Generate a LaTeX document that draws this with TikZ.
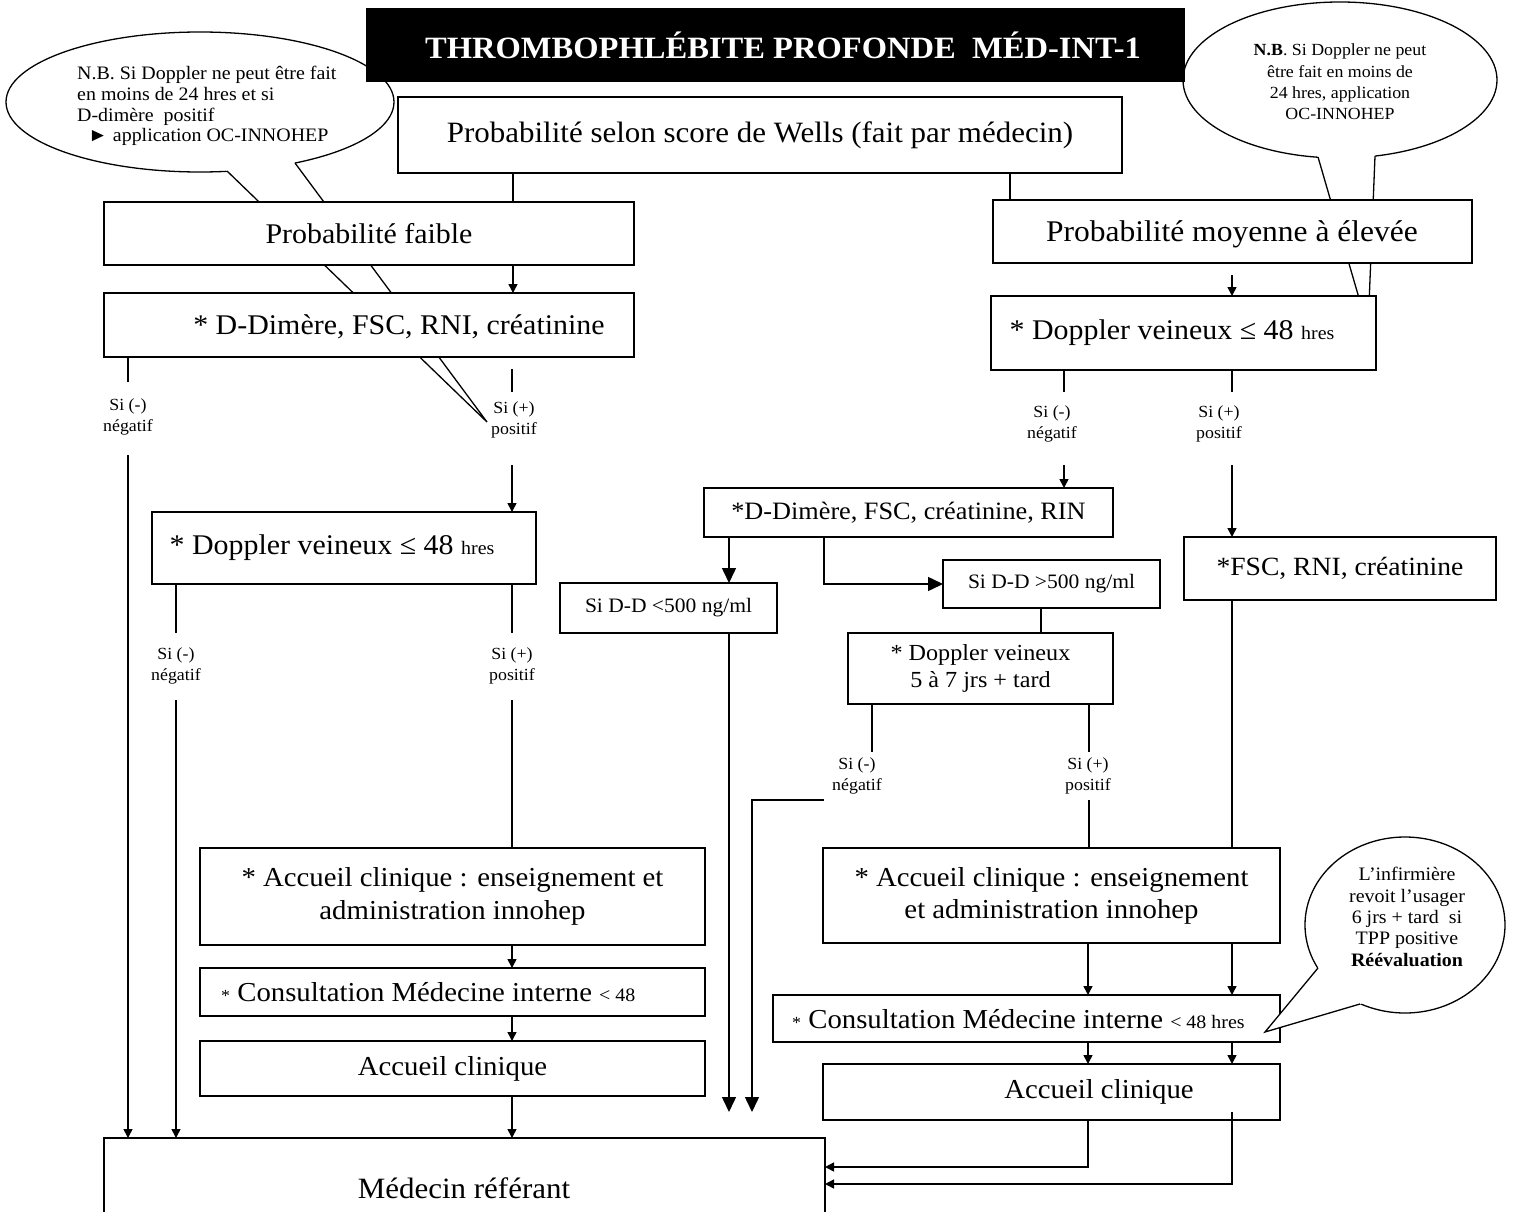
\documentclass[tikz,border=0pt]{standalone}
\usepackage{fontspec}
\setmainfont{Liberation Serif}[FakeStretch=1.05]
\usetikzlibrary{arrows.meta,calc}
\newcommand\fs[2]{\fontsize{#1}{#2}\selectfont}
\newcommand\mkbox[7][]{\node[box,#1,minimum width={(#5-#3)*1pt},minimum height={(#6-#4)*1pt}] (#2) at ({(#3+#5)/2},{(#4+#6)/2}) {#7};}
\tikzset{
 box/.style={draw, line width=1.5pt, fill=white, inner sep=0pt, outer sep=0pt, align=center},
 ln/.style={line width=1.5pt},
 arr/.style={line width=1.5pt, -{Triangle[length=9pt,width=9pt]}},
 barr/.style={line width=1.5pt, -{Triangle[length=15pt,width=14pt]}},
 lbl/.style={inner sep=0pt, align=center, font=\fs{17}{21}},
 co/.style={draw, line width=1.3pt, fill=white},
 cl/.style={line width=1.3pt},
 ct/.style={inner sep=0pt, font=\fs{19}{20.7}},
 txt/.style={inner sep=0pt, align=center},
}
\begin{document}
\begin{tikzpicture}[x=1pt,y=-1pt]
\useasboundingbox (0,0) rectangle (1527,1212);
\fill[white] (0,0) rectangle (1527,1212);

% ---- left callout
\draw[co] (200,102) ellipse [x radius=194, y radius=70];
\coordinate (LTa) at (227,171); \coordinate (LTb) at (295,163); \coordinate (LTt) at (487,422);
\fill[white] ($(LTt)!1.08!(LTa)$) -- (LTt) -- ($(LTt)!1.08!(LTb)$) -- cycle;
\draw[cl] (LTa) -- (LTt) -- (LTb);
\node[ct, anchor=west, align=left] (LTx) at (77,106) {N.B. Si Doppler ne peut être fait\\en moins de 24 hres et si\\D-dimère\ \ positif\\\hspace*{11pt}► application OC-INNOHEP};

% ---- right callout
\draw[co] (1340,80) ellipse [x radius=157, y radius=78];
\coordinate (RTa) at (1318,157); \coordinate (RTb) at (1375,156); \coordinate (RTt) at (1368,329);
\fill[white] ($(RTt)!1.08!(RTa)$) -- (RTt) -- ($(RTt)!1.08!(RTb)$) -- cycle;
\draw[cl] (RTa) -- (RTt) -- (RTb);
\node[ct, align=center, font=\fs{17}{21.3}] (RTx) at (1340,82) {\textbf{N.B}. Si Doppler ne peut\\être fait en moins de\\24 hres, application\\OC-INNOHEP};

% ---- title
\node[fill=black, inner sep=0pt, minimum width=819pt, minimum height=74pt] (title) at (775.5,45) {};
\node[text=white, inner sep=0pt, font=\bfseries\fs{31}{34}] (titlet) at (783,45) {THROMBOPHLÉBITE PROFONDE\ \ MÉD-INT-1};

% ---- boxes
\mkbox[font=\fs{29.5}{34}]{wells}{398}{97}{1122}{173}{Probabilité selon score de Wells (fait par médecin)}
\mkbox[font=\fs{28.5}{33}]{faible}{104}{202}{634}{265}{Probabilité faible}
\mkbox{moy}{993}{200}{1472}{263}{}
\node[txt, font=\fs{30}{34}] (moyt) at (1232,234) {Probabilité moyenne à élevée};
\mkbox{ddim}{104}{293}{634}{357}{}
\node[txt, font=\fs{28.5}{33}] (ddimt) at (399,327) {* D-Dimère, FSC, RNI, créatinine};
\mkbox{dopR}{991}{296}{1376}{370}{}
\node[txt, font=\fs{28.5}{33}] (dopRt) at (1172,333) {* Doppler veineux ≤ 48 {\fs{19}{22}hres}};
\mkbox{dopL}{152}{512}{536}{584}{}
\node[txt, font=\fs{28.5}{33}] (dopLt) at (332,548) {* Doppler veineux ≤ 48 {\fs{19}{22}hres}};
\mkbox[font=\fs{25}{29}]{ddimRIN}{704}{488}{1113}{537}{*D-Dimère, FSC, créatinine, RIN}
\mkbox[font=\fs{20.5}{24}]{ddlt}{560}{583}{777}{633}{Si D-D <500 ng/ml}
\mkbox[font=\fs{20.5}{24}]{ddgt}{943}{560}{1160}{608}{Si D-D >500 ng/ml}
\mkbox[font=\fs{26.3}{30}]{fsc}{1184}{537}{1496}{600}{*FSC, RNI, créatinine}
\mkbox[font=\fs{23}{27}]{dop57}{848}{633}{1113}{704}{* Doppler veineux\\5 à 7 jrs + tard}
\mkbox[font=\fs{27.4}{33}]{accL}{200}{848}{705}{945}{* Accueil clinique : enseignement et\\administration innohep}
\mkbox{consL}{200}{968}{705}{1016}{}
\node[txt, anchor=west, font=\fs{27.4}{31}] (consLt) at (221,992) {{\fs{17}{20}*} Consultation Médecine interne {\fs{19}{22}< 48}};
\mkbox[font=\fs{27.4}{31}]{acc2L}{200}{1041}{705}{1096}{Accueil clinique}
\mkbox[font=\fs{27.4}{32}]{accR}{823}{848}{1280}{943}{* Accueil clinique : enseignement\\et administration innohep}
\mkbox{consR}{773}{995}{1280}{1042}{}
\node[txt, anchor=west, font=\fs{27.4}{31}] (consRt) at (792,1019) {{\fs{17}{20}*} Consultation Médecine interne {\fs{19}{22}< 48 hres}};
\mkbox{acc2R}{823}{1064}{1280}{1120}{}
\node[txt, font=\fs{27.4}{31}] (acc2Rt) at (1099,1092) {Accueil clinique};
\mkbox{med}{104}{1138}{825}{1244}{}
\node[txt, font=\fs{29.5}{34}] (medt) at (464,1188) {Médecin référant};

% ---- branch labels
\node[lbl] (lA) at (128,417) {Si (-)\\négatif};
\node[lbl] (lB) at (514,420) {Si (+)\\positif};
\node[lbl] (lC) at (176,666) {Si (-)\\négatif};
\node[lbl] (lD) at (512,666) {Si (+)\\positif};
\node[lbl] (lE) at (1052,424) {Si (-)\\négatif};
\node[lbl] (lF) at (1219,424) {Si (+)\\positif};
\node[lbl] (lG) at (857,776) {Si (-)\\négatif};
\node[lbl] (lH) at (1088,776) {Si (+)\\positif};

% ---- x positions
\foreach \v in {128,176,512,513,729,824,1010,1041,1064,1088,1089,1232} {\coordinate (X\v) at (\v,0);}
\coordinate (Y1167) at (0,1167);
\coordinate (Y1184) at (0,1184);

% ---- connectors
\draw[ln] (wells.south -| X513) -- (faible.north -| X513);
\draw[ln] (wells.south -| X1010) -- (moy.north -| X1010);
\draw[arr] (faible.south -| X513) -- (ddim.north -| X513);
\coordinate (m1) at (1232,275);
\draw[arr] (m1) -- (dopR.north -| m1);

\coordinate (lA1) at (128,382); \draw[ln] (ddim.south -| lA1) -- (lA1);
\coordinate (lA2) at (128,455); \draw[arr] (lA2) -- (med.north -| lA2);
\coordinate (lB0) at (512,369); \coordinate (lB1) at (512,392); \draw[ln] (lB0) -- (lB1);
\coordinate (lB2) at (512,465); \draw[arr] (lB2) -- (dopL.north -| lB2);

\coordinate (lC1) at (176,633); \draw[ln] (dopL.south -| lC1) -- (lC1);
\coordinate (lC2) at (176,700); \draw[arr] (lC2) -- (med.north -| lC2);
\coordinate (lD1) at (512,633); \draw[ln] (dopL.south -| lD1) -- (lD1);
\coordinate (lD2) at (512,700); \draw[ln] (lD2) -- (accL.north -| lD2);

\draw[arr] (accL.south -| X512) -- (consL.north -| X512);
\draw[arr] (consL.south -| X512) -- (acc2L.north -| X512);
\draw[arr] (acc2L.south -| X512) -- (med.north -| X512);

\coordinate (lE1) at (1064,392); \draw[ln] (dopR.south -| lE1) -- (lE1);
\coordinate (lE2) at (1064,465); \draw[arr] (lE2) -- (ddimRIN.north -| lE2);
\coordinate (lF1) at (1232,392); \draw[ln] (dopR.south -| lF1) -- (lF1);
\coordinate (lF2) at (1232,465); \draw[arr] (lF2) -- (fsc.north -| lF2);

\draw[barr] (ddimRIN.south -| X729) -- (ddlt.north -| X729);
\draw[barr] (ddimRIN.south -| X824) |- (ddgt.west);
\coordinate (d1) at (729,1112); \draw[barr] (ddlt.south -| d1) -- (d1);
\draw[ln] (ddgt.south -| X1041) -- (dop57.north -| X1041);

\coordinate (lG1) at (872,752); \draw[ln] (dop57.south -| lG1) -- (lG1);
\coordinate (lG2) at (824,800); \coordinate (lG3) at (752,1112);
\draw[barr] (lG2) -- (lG3 |- lG2) -- (lG3);
\coordinate (lH1) at (1089,752); \draw[ln] (dop57.south -| lH1) -- (lH1);
\coordinate (lH2) at (1089,800); \draw[ln] (lH2) -- (accR.north -| lH2);

\draw[ln] (fsc.south -| X1232) -- (accR.north -| X1232);
\draw[arr] (accR.south -| X1088) -- (consR.north -| X1088);
\draw[arr] (accR.south -| X1232) -- (consR.north -| X1232);
\draw[arr] (consR.south -| X1088) -- (acc2R.north -| X1088);
\draw[arr] (consR.south -| X1232) -- (acc2R.north -| X1232);
\draw[arr] (acc2R.south -| X1088) -- (X1088 |- Y1167) -- (med.east |- Y1167);
\coordinate (q2) at (1232,1112);
\draw[arr] (q2) -- (q2 |- Y1184) -- (med.east |- Y1184);

% ---- bottom-right callout
\draw[co] (1405,925) ellipse [x radius=100, y radius=88];
\coordinate (BRa) at (1318,968); \coordinate (BRb) at (1360,1004); \coordinate (BRt) at (1265,1032);
\fill[white] ($(BRt)!1.08!(BRa)$) -- (BRt) -- ($(BRt)!1.08!(BRb)$) -- cycle;
\draw[cl] (BRa) -- (BRt) -- (BRb);
\node[ct, align=center, font=\fs{19}{21.3}] (BRx) at (1407,917) {L’infirmière\\revoit l’usager\\6 jrs + tard\ \ si\\TPP positive\\\textbf{Réévaluation}};
\end{tikzpicture}
\end{document}
